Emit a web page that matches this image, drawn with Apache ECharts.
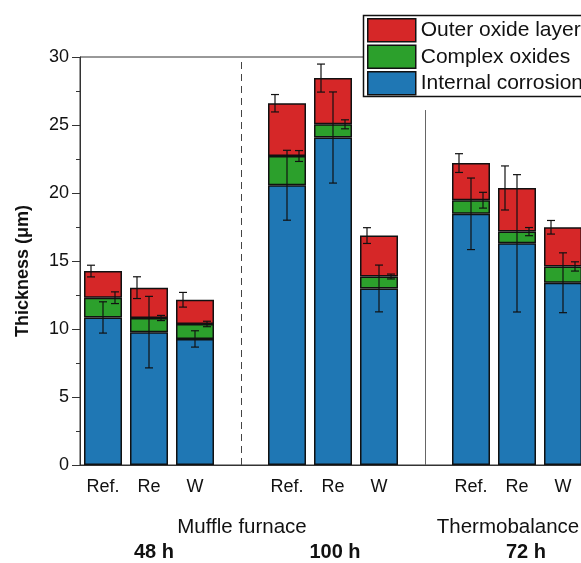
<!DOCTYPE html>
<html>
<head>
<meta charset="utf-8">
<script src="https://cdn.jsdelivr.net/npm/echarts@6/dist/echarts.min.js"></script>
<style>
  html, body { margin: 0; padding: 0; background: #fff; }
  #chart { width: 581px; height: 563px; }
</style>
</head>
<body>
<div id="chart"></div>
<script>
// ---- data (µm) ----
// 12 slots: 48 h (Ref., Re, W), gap, 100 h (Ref., Re, W), gap, 72 h (Ref., Re, W), gap
const categories = ["Ref.", "Re", "W", "", "Ref.", "Re", "W", "", "Ref.", "Re", "W", ""];
const internalCorrosion = [10.85, 9.77, 9.27, null, 20.57, 24.08, 12.98, null, 18.47, 16.30, 13.40, null];
const complexOxides     = [1.45, 1.04, 1.10, null, 2.15, 0.97, 0.88, null, 1.00, 0.86, 1.20, null];
const outerOxide        = [1.96, 2.23, 1.78, null, 3.88, 3.40, 3.01, null, 2.73, 3.21, 2.88, null];
const internalErr = [1.15, 2.63, 0.60, null, 2.57, 3.35, 1.72, null, 2.63, 5.05, 2.20, null];
const complexErr  = [0.43, 0.19, 0.20, null, 0.40, 0.33, 0.18, null, 0.58, 0.30, 0.34, null];
const outerErr    = [0.43, 0.80, 0.54, null, 0.64, 1.03, 0.58, null, 0.69, 1.62, 0.50, null];
const yTicks = [0, 5, 10, 15, 20, 25, 30];

const FONT = "'Liberation Sans', Arial, sans-serif";
const RED = "#d62728", GREEN = "#2ca02c", BLUE = "#1f77b4";

// cumulative tops, error bars sit on them
function tops(...layers) {
  return categories.map((_, i) => {
    if (layers[0][i] == null) return null;
    return layers.reduce((s, l) => s + l[i], 0);
  });
}
const blueTop = tops(internalCorrosion);
const greenTop = tops(internalCorrosion, complexOxides);
const redTop = tops(internalCorrosion, complexOxides, outerOxide);

function errSeries(centers, errs, offsetPx) {
  const data = [];
  centers.forEach((c, i) => { if (c != null) data.push([i, c, errs[i]]); });
  return {
    type: "custom",
    xAxisIndex: 0,
    z: 5,
    silent: true,
    data: data,
    renderItem: function (params, api) {
      const i = api.value(0), c = api.value(1), e = api.value(2);
      const top = api.coord([i, c + e]);
      const bot = api.coord([i, c - e]);
      const x = top[0] + offsetPx, cap = 4;
      const style = { stroke: "#111", lineWidth: 1.2 };
      return {
        type: "group",
        children: [
          { type: "line", shape: { x1: x, y1: top[1], x2: x, y2: bot[1] }, style: style },
          { type: "line", shape: { x1: x - cap, y1: top[1], x2: x + cap, y2: top[1] }, style: style },
          { type: "line", shape: { x1: x - cap, y1: bot[1], x2: x + cap, y2: bot[1] }, style: style }
        ]
      };
    }
  };
}

const barBase = {
  type: "bar",
  stack: "t",
  barWidth: 38,
  xAxisIndex: 0
};

const chart = echarts.init(document.getElementById("chart"), null, { renderer: "canvas" });

chart.setOption({
  animation: false,
  backgroundColor: "#fff",
  textStyle: { fontFamily: FONT },
  grid: {
    left: 80, top: 57, width: 552, bottom: 98,
    outerBoundsMode: "none",
    show: true, borderColor: "#333", borderWidth: 1
  },
  legend: {
    z: 21,
    data: ["Outer oxide layer", "Complex oxides", "Internal corrosion"],
    orient: "vertical",
    left: 364,
    top: 15,
    padding: [3, 0, 3, 3],
    itemWidth: 48,
    itemHeight: 23,
    itemGap: 2,
    icon: "rect",
    borderWidth: 0,
    selectedMode: false,
    itemStyle: { borderColor: "#111", borderWidth: 1.5 },
    textStyle: { fontFamily: FONT, fontSize: 21, color: "#111" }
  },
  xAxis: [
    {
      type: "category",
      data: categories,
      axisLine: { lineStyle: { color: "#333", width: 1 } },
      axisTick: { alignWithLabel: true, length: 8, interval: 0, lineStyle: { color: "#333" } },
      axisLabel: { interval: 0, margin: 13, fontFamily: FONT, fontSize: 18, color: "#111" }
    },
    {
      type: "category",
      data: categories,
      position: "bottom",
      axisLine: { show: false },
      axisTick: { length: 4, interval: 0, lineStyle: { color: "#333" } },
      axisLabel: { show: false }
    }
  ],
  yAxis: {
    type: "value",
    min: 0,
    max: 30,
    interval: 5,
    name: "Thickness (\u03bcm)",
    nameLocation: "middle",
    nameGap: 48,
    nameTextStyle: { fontFamily: FONT, fontSize: 18, fontWeight: "bold", color: "#111", padding: [0, 20, 0, 0] },
    axisLine: { show: true, lineStyle: { color: "#333", width: 1 } },
    axisTick: { show: true, length: 8, lineStyle: { color: "#333" } },
    minorTick: { show: true, splitNumber: 2, length: 4, lineStyle: { color: "#333" } },
    splitLine: { show: false },
    axisLabel: {
      margin: 11,
      fontFamily: FONT,
      fontSize: 18,
      color: "#111",
      formatter: v => (yTicks.includes(v) ? String(v) : "")
    }
  },
  graphic: [
    // legend frame, runs off the right edge like the original
    { type: "rect", z: 20, shape: { x: 363.5, y: 15.5, width: 300, height: 81 },
      style: { fill: "#fff", stroke: "#111", lineWidth: 1.5 } },
    { type: "text", x: 242, y: 527, style: { text: "Muffle furnace", font: "20.5px " + FONT, fill: "#111", align: "center", verticalAlign: "middle" } },
    { type: "text", x: 508, y: 527, style: { text: "Thermobalance", font: "20.5px " + FONT, fill: "#111", align: "center", verticalAlign: "middle" } },
    { type: "text", x: 154, y: 552, style: { text: "48 h", font: "bold 20px " + FONT, fill: "#111", align: "center", verticalAlign: "middle" } },
    { type: "text", x: 335, y: 552, style: { text: "100 h", font: "bold 20px " + FONT, fill: "#111", align: "center", verticalAlign: "middle" } },
    { type: "text", x: 526, y: 552, style: { text: "72 h", font: "bold 20px " + FONT, fill: "#111", align: "center", verticalAlign: "middle" } }
  ],
  series: [
    Object.assign({}, barBase, {
      name: "Internal corrosion",
      data: internalCorrosion,
      itemStyle: { color: BLUE, borderColor: "#111", borderWidth: 1.5 },
      markLine: {
        silent: true,
        symbol: "none",
        label: { show: false },
        data: [
          [{ coord: [3, 0], lineStyle: { color: "#444", type: [7, 5], width: 1 } }, { coord: [3, 30] }],
          [{ coord: [7, 0], lineStyle: { color: "#666", type: "solid", width: 1 } }, { coord: [7, 26.1] }]
        ]
      }
    }),
    Object.assign({}, barBase, {
      name: "Complex oxides",
      data: complexOxides,
      itemStyle: { color: GREEN, borderColor: "#111", borderWidth: 1.5 }
    }),
    Object.assign({}, barBase, {
      name: "Outer oxide layer",
      data: outerOxide,
      itemStyle: { color: RED, borderColor: "#111", borderWidth: 1.5 }
    }),
    errSeries(blueTop, internalErr, 0),
    errSeries(greenTop, complexErr, 12),
    errSeries(redTop, outerErr, -12)
  ]
});
</script>
</body>
</html>
